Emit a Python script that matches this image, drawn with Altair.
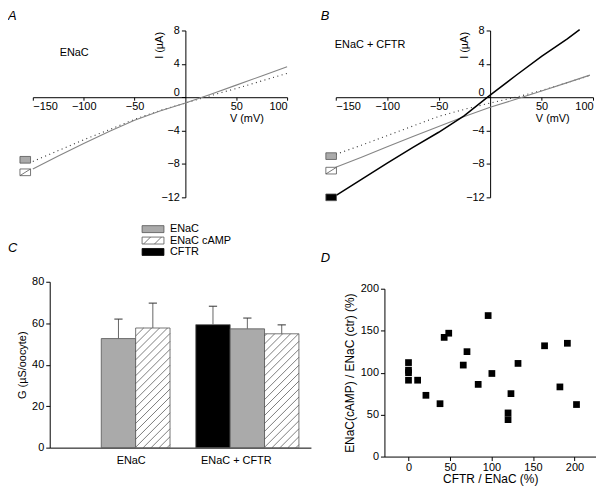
import altair as alt
import pandas as pd

# ---------------- data ----------------
# Panel A: I-V curves, oocytes expressing ENaC
A_V = [-150, -125, -100, -75, -50, -25, 0, 25, 50, 75, 100]
A_ENAC = [-7.7, -6.4, -5.1, -3.9, -2.65, -1.6, -0.7, 0.2, 1.05, 1.95, 2.85]
A_ENAC_CAMP = [-8.6, -7.05, -5.55, -4.1, -2.75, -1.65, -0.7, 0.35, 1.45, 2.55, 3.65]
A_MARK_I = [-7.5, -9.0]          # ENaC, ENaC cAMP

# Panel B: I-V curves, ENaC + CFTR
B_V = [-150, -125, -100, -75, -50, -25, 0, 25, 50, 75, 97]
B_ENAC = [-6.85, -5.75, -4.6, -3.45, -2.3, -1.45, -0.7, 0.0, 0.8, 1.75, 2.6]
B_ENAC_CAMP = [-8.4, -7.2, -5.95, -4.7, -3.5, -2.3, -1.2, -0.25, 0.75, 1.75, 2.65]
B_CFTR_V = [-150, -125, -100, -75, -50, -25, 0, 25, 50, 75, 87]
B_CFTR = [-11.8, -9.85, -7.9, -6.0, -4.2, -2.2, 0.25, 2.6, 4.9, 7.0, 8.1]
B_MARK_I = [-7.06, -8.8, -12.0]  # ENaC, ENaC cAMP, CFTR

# Panel C: conductance
SERIES = ["ENaC", "ENaC cAMP", "CFTR"]
GROUPS = ["ENaC", "ENaC + CFTR"]
C_GROUP = ["ENaC", "ENaC", "ENaC + CFTR", "ENaC + CFTR", "ENaC + CFTR"]
C_SERIES = ["ENaC", "ENaC cAMP", "CFTR", "ENaC", "ENaC cAMP"]
C_MEAN = [52.6, 57.7, 59.3, 57.3, 54.9]
C_SEM = [9.4, 12.0, 8.9, 5.2, 4.3]

# Panel D: scatter
D_X = [0, 0, 0, 0, 11, 21, 38, 43, 48.5, 66, 70.5, 84, 96, 100.5, 120, 120, 123.5, 132, 164, 182.5, 191.5, 202.5]
D_Y = [112, 103, 100, 91, 91, 73, 63, 142, 147, 109, 125, 86, 168, 99, 52, 44, 75, 111, 132, 83, 135, 62]

# ---------------- layout / style constants ----------------
FONT = "Liberation Sans"
GRAY = "#aaaaaa"
EDGE = "#555555"
LINE_GRAY = "#858585"

W_A, H_A = 256, 168
W_B, H_B = 259, 168
W_C, H_C = 280, 167
C_LEFT = 17
C_DOM = [0, 7.6]
W_D, H_D = 262, 176
D_LEFT, D_TOP = 49, 7

GROUP_START = {"ENaC": 1.5, "ENaC + CFTR": 4.25}
GROUP_LABEL_X = [2.37, 5.43]
BAR_W = 1.0


def letter(ch, dx, dy):
    return alt.Chart(pd.DataFrame({"t": [ch]})).mark_text(
        align="left", baseline="top", fontSize=13, fontStyle="italic", font=FONT
    ).encode(x=alt.value(dx), y=alt.value(dy), text="t:N")


def note(txt, dx, dy):
    return alt.Chart(pd.DataFrame({"t": [txt]})).mark_text(
        align="left", baseline="middle", fontSize=11, font=FONT
    ).encode(x=alt.value(dx), y=alt.value(dy), text="t:N")


def iv_panel(W, H, title_x, curves, markers, label, panel_letter, letter_dx):
    xs = alt.Scale(domain=[-150, 100], nice=False)
    ys = alt.Scale(domain=[-12, 8], nice=False)
    xax = alt.Axis(values=[-150, -100, -50, 50, 100], offset=-H * 12 / 20,
                   title="V (mV)", titleX=title_x, titleY=24.5, titleAlign="center",
                   titleBaseline="alphabetic", tickSize=3, labelPadding=0)
    yax = alt.Axis(values=[-12, -8, -4, 0, 4, 8], offset=-W * 150 / 250,
                   title="I (µA)", titleX=-23, titleY=1, titleAngle=270,
                   titleAlign="right", titleBaseline="alphabetic", tickSize=4,
                   labelPadding=2,
                   labelBaseline={"condition": {"test": "datum.value == 0", "value": "bottom"},
                                  "value": "middle"})
    X = alt.X("V:Q", scale=xs, axis=xax)
    Y = alt.Y("I:Q", scale=ys, axis=yax)
    layers = []
    for v, i, style in curves:
        df = pd.DataFrame({"V": v, "I": i})
        layers.append(alt.Chart(df).mark_line(**style).encode(x=X, y=Y, order="V:Q"))
    for i_val, shape, fill in markers:
        df = pd.DataFrame({"V": [-150], "I": [i_val]})
        layers.append(alt.Chart(df).mark_point(
            shape=shape, size=114, fill=fill, stroke=EDGE, strokeWidth=0.8,
            opacity=1, fillOpacity=1).encode(x=X, y=Y))
    layers.append(note(label[0], label[1], label[2]))
    layers.append(letter(panel_letter, letter_dx, -21))
    return alt.layer(*layers).properties(width=W, height=H)


DOTTED = dict(color="#333333", strokeWidth=1.1, strokeDash=[1, 3.5])
SOLID_GRAY = dict(color=LINE_GRAY, strokeWidth=1.1)
SOLID_BLACK = dict(color="black", strokeWidth=1.5)

A_BOX = "M-2.43,-0.63H-0.43V0.63H-2.43Z"
A_HBOX = A_BOX + "M-2.43,0.63L-0.43,-0.63"
B_BOX = "M-1.87,-0.63H0.13V0.63H-1.87Z"
B_HBOX = B_BOX + "M-1.87,0.63L0.13,-0.63"

panel_a = iv_panel(
    W_A, H_A, 215,
    [(A_V, A_ENAC, DOTTED), (A_V, A_ENAC_CAMP, SOLID_GRAY)],
    [(A_MARK_I[0], A_BOX, GRAY), (A_MARK_I[1], A_HBOX, "white")],
    ("ENaC", 27, 23), "A", -25)

panel_b = iv_panel(
    W_B, H_B, 218,
    [(B_V, B_ENAC, DOTTED), (B_V, B_ENAC_CAMP, SOLID_GRAY), (B_CFTR_V, B_CFTR, SOLID_BLACK)],
    [(B_MARK_I[0], B_BOX, GRAY), (B_MARK_I[1], B_HBOX, "white"), (B_MARK_I[2], B_BOX, "black")],
    ("ENaC + CFTR", -1, 15), "B", -15)

# ---------------- panel C ----------------
rows = []
counts = {}
for g, s, m, e in zip(C_GROUP, C_SERIES, C_MEAN, C_SEM):
    k = counts.get(g, 0)
    counts[g] = k + 1
    x0 = GROUP_START[g] + k * BAR_W
    rows.append({"group": g, "series": s, "x0": x0, "x1": x0 + BAR_W,
                 "xc": x0 + BAR_W / 2, "cap0": x0 + BAR_W / 2 - 0.12,
                 "cap1": x0 + BAR_W / 2 + 0.12, "mean": m, "top": m + e})
bars = pd.DataFrame(rows)

PX_X = (W_C - C_LEFT) / (C_DOM[1] - C_DOM[0])
PX_Y = H_C / 80.0
SP = 8.0
hatch = []
for r in rows:
    if r["series"] != "ENaC cAMP":
        continue
    w = BAR_W * PX_X
    hp = r["mean"] * PX_Y
    c = -w + 3.0
    while c < hp:
        xa = max(0.0, -c)
        xb = min(w, hp - c)
        if xb > xa:
            hatch.append({"hx": r["x0"] + xa / PX_X, "hy": (xa + c) / PX_Y,
                          "hx2": r["x0"] + xb / PX_X, "hy2": (xb + c) / PX_Y})
        c += SP
hatch = pd.DataFrame(hatch)

xsc = alt.Scale(domain=C_DOM, range=[C_LEFT, W_C], nice=False, zero=False)
ysc = alt.Scale(domain=[0, 80], nice=False)
xaxC = alt.Axis(labels=False, ticks=False, title=None)
yaxC = alt.Axis(values=[0, 20, 40, 60, 80], offset=-C_LEFT, title="G (µS/oocyte)",
                tickSize=4, labelPadding=2, titlePadding=4)

c_bars = alt.Chart(bars).mark_rect(stroke=EDGE, strokeWidth=0.8).encode(
    x=alt.X("x0:Q", scale=xsc, axis=xaxC), x2="x1:Q",
    y=alt.Y("mean:Q", scale=ysc, axis=yaxC), y2=alt.datum(0),
    fill=alt.Fill("series:N", scale=alt.Scale(domain=SERIES, range=[GRAY, "white", "black"]),
                  legend=None))
c_hatch = alt.Chart(hatch).mark_rule(color="#444444", strokeWidth=0.7).encode(
    x=alt.X("hx:Q", scale=xsc, axis=xaxC), x2="hx2:Q",
    y=alt.Y("hy:Q", scale=ysc, axis=yaxC), y2="hy2:Q")
c_err = alt.Chart(bars).mark_rule(color="#666666", strokeWidth=1).encode(
    x=alt.X("xc:Q", scale=xsc, axis=xaxC),
    y=alt.Y("mean:Q", scale=ysc, axis=yaxC), y2="top:Q")
c_cap = alt.Chart(bars).mark_rule(color="#333333", strokeWidth=1).encode(
    x=alt.X("cap0:Q", scale=xsc, axis=xaxC), x2="cap1:Q",
    y=alt.Y("top:Q", scale=ysc, axis=yaxC))
c_lab = alt.Chart(pd.DataFrame({"group": GROUPS, "lx": GROUP_LABEL_X})).mark_text(
    fontSize=11, font=FONT, baseline="middle").encode(
    x=alt.X("lx:Q", scale=xsc, axis=xaxC), y=alt.value(H_C + 13), text="group:N")

legend_layers = []
LEG_FILL = [GRAY, "white", "black"]
LEG_Y = [-53, -41.5, -30]
for name, fill, yc in zip(SERIES, LEG_FILL, LEG_Y):
    legend_layers.append(alt.Chart(pd.DataFrame({"s": [name]})).mark_rect(
        fill=fill, stroke=EDGE if fill != "black" else "black", strokeWidth=0.8).encode(
        x=alt.value(110), x2=alt.value(132), y=alt.value(yc - 3.5), y2=alt.value(yc + 3.5)))
    legend_layers.append(alt.Chart(pd.DataFrame({"s": [name]})).mark_text(
        align="left", baseline="middle", fontSize=11, font=FONT).encode(
        x=alt.value(138), y=alt.value(yc), text="s:N"))
    if fill == "white":
        for xa in (111.5, 122.5):
            legend_layers.append(alt.Chart(pd.DataFrame({"s": [name]})).mark_rule(
                color=EDGE, strokeWidth=0.8).encode(
                x=alt.value(xa), x2=alt.value(xa + 7), y=alt.value(yc + 3.5),
                y2=alt.value(yc - 3.5)))

panel_c = alt.layer(c_bars, c_hatch, c_err, c_cap, c_lab, *legend_layers,
                    letter("C", -25, -40)).properties(width=W_C, height=H_C)

# ---------------- panel D ----------------
dxs = alt.Scale(domain=[-29, 226], range=[D_LEFT, W_D], nice=False, zero=False)
dys = alt.Scale(domain=[0, 200], range=[H_D, D_TOP], nice=False)
d_pts = alt.Chart(pd.DataFrame({"x": D_X, "y": D_Y})).mark_square(
    size=46, color="black", opacity=1).encode(
    x=alt.X("x:Q", scale=dxs, axis=alt.Axis(values=[0, 50, 100, 150, 200],
                                             title="CFTR / ENaC (%)", tickSize=4,
                                             labelPadding=1, titlePadding=1,
                                             titleFontSize=12)),
    y=alt.Y("y:Q", scale=dys, axis=alt.Axis(values=[0, 50, 100, 150, 200], offset=-D_LEFT,
                                             title="ENaC(cAMP) / ENaC (ctr) (%)",
                                             tickSize=4, labelPadding=2, titlePadding=4,
                                             titleFontSize=12)))
panel_d = alt.layer(d_pts, letter("D", -15, -30)).properties(width=W_D, height=H_D)

chart = alt.concat(
    panel_a, panel_b, panel_c, panel_d, columns=2,
    spacing={"row": 85, "column": 25}, bounds="flush", align="each"
).properties(padding=0).configure(font=FONT).configure_view(stroke=None).configure_axis(
    labelFont=FONT, titleFont=FONT, labelFontSize=11, titleFontSize=11,
    titleFontWeight="normal", labelColor="black", titleColor="black",
    domainColor="black", tickColor="black", grid=False, domainWidth=1, tickWidth=1)

chart.save("out.html", embed_options={"renderer": "svg", "actions": False})
